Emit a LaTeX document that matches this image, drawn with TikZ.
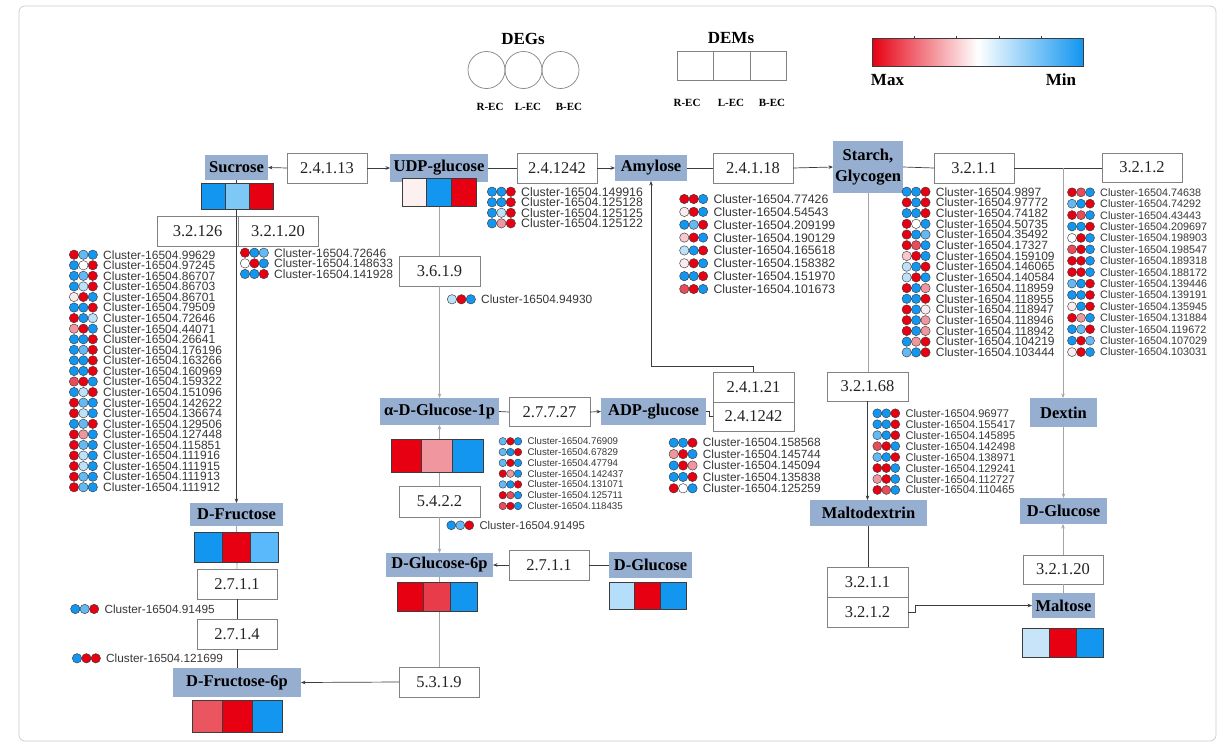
\documentclass[tikz,border=0pt]{standalone}
\usepackage{fontspec}
\setmainfont{Liberation Serif}
\newfontfamily\clfont{Liberation Sans}
\usetikzlibrary{arrows.meta}
\definecolor{hR}{RGB}{230,0,18}
\definecolor{hB}{RGB}{18,150,240}
\definecolor{hLB}{RGB}{100,185,245}
\definecolor{hPB}{RGB}{190,225,250}
\definecolor{hW}{RGB}{255,255,255}
\definecolor{hPW}{RGB}{250,236,238}
\definecolor{hPK}{RGB}{240,150,158}
\definecolor{hLP}{RGB}{248,200,205}
\definecolor{hMR}{RGB}{232,75,90}
\definecolor{hSB}{RGB}{125,200,245}
\definecolor{hUW}{RGB}{252,240,240}
\definecolor{hFB}{RGB}{90,185,250}
\definecolor{hGR}{RGB}{232,60,75}
\definecolor{hGB}{RGB}{180,222,250}
\definecolor{hFR}{RGB}{235,85,95}
\definecolor{hMB}{RGB}{200,228,248}
\definecolor{nodefill}{RGB}{150,174,208}
\definecolor{boxline}{RGB}{130,130,130}
\definecolor{linec}{RGB}{60,60,60}
\definecolor{lightline}{RGB}{165,165,165}
\definecolor{cltxt}{RGB}{55,55,55}
\definecolor{frame}{RGB}{205,205,205}
\newcount\clc
\newcommand\clist[6]{%
  \foreach \ca/\cb/\cc/\id [count=\i from 0] in {#6}{%
    \pgfmathsetmacro\yy{#2+\i*#3}%
    \global\advance\clc by 1
    \filldraw[fill=\ca, draw=linec, line width=0.45pt] ({#1-5.5-5*#5},\yy) circle[radius=#5pt];
    \filldraw[fill=\cb, draw=linec, line width=0.45pt] ({#1-5.5-3*#5},\yy) circle[radius=#5pt];
    \filldraw[fill=\cc, draw=linec, line width=0.45pt] ({#1-5.5-#5},\yy) circle[radius=#5pt];
    \node[cltext, font=\clfont\fontsize{#4}{#4}\selectfont] (cl\the\clc) at (#1,{\yy+0.36*#4}) {Cluster-16504.\id};
  }}
\newcommand\hmap[8]{%
  \node[hcell, fill=#6, minimum width=#4pt, minimum height=#5pt] (#1a) at (#2,#3) {};
  \node[hcell, fill=#7, minimum width=#4pt, minimum height=#5pt] (#1b) at (#1a.north east) {};
  \node[hcell, fill=#8, minimum width=#4pt, minimum height=#5pt] (#1c) at (#1b.north east) {};
}
\tikzset{
  met/.style={fill=nodefill, text=black, font=\bfseries\fontsize{16.5}{20.5}\selectfont, inner sep=0pt, outer sep=0pt, align=center},
  enz/.style={draw=boxline, fill=white, line width=0.7pt, text={rgb,255:red,35;green,35;blue,35}, font=\fontsize{16.5}{17}\selectfont, minimum width=80pt, minimum height=30pt, inner sep=0pt, outer sep=0pt},
  hcell/.style={draw=linec, line width=0.8pt, inner sep=0pt, outer sep=0pt, anchor=north west},
  cltext/.style={text=cltxt, inner sep=0pt, anchor=base west},
  ln/.style={draw=linec, line width=0.7pt},
  lln/.style={draw=lightline, line width=0.9pt},
  arr/.style={-{Stealth[length=4.5pt,width=3.6pt]}},
  lgd/.style={font=\bfseries\fontsize{11}{11}\selectfont, inner sep=0pt},
}
\begin{document}
\begin{tikzpicture}[x=1pt,y=-1pt]
\useasboundingbox (0,0) rectangle (1221,742);
\draw[frame, line width=0.8pt, rounded corners=6pt] (19,6) rectangle (1216,741);

% ---------- legend ----------
\node[font=\bfseries\fontsize{17}{17}\selectfont, inner sep=0pt] (degs) at (523,39) {DEGs};
\node[circle, draw=boxline, line width=0.7pt, minimum size=37pt, inner sep=0pt] (lc1) at (486.5,70) {};
\node[circle, draw=boxline, line width=0.7pt, minimum size=37pt, inner sep=0pt] (lc2) at (523.5,70) {};
\node[circle, draw=boxline, line width=0.7pt, minimum size=37pt, inner sep=0pt] (lc3) at (560.5,70) {};
\node[lgd] (lr1) at (490,107) {R-EC};
\node[lgd] (lr2) at (528,107) {L-EC};
\node[lgd] (lr3) at (569,107) {B-EC};
\node[font=\bfseries\fontsize{17}{17}\selectfont, inner sep=0pt] (dems) at (731,38) {DEMs};
\node[draw=boxline, line width=0.7pt, minimum width=36.5pt, minimum height=29pt, inner sep=0pt, outer sep=0pt, anchor=north west] (lm1) at (677,51) {};
\node[draw=boxline, line width=0.7pt, minimum width=36.5pt, minimum height=29pt, inner sep=0pt, outer sep=0pt, anchor=north west] (lm2) at (lm1.north east) {};
\node[draw=boxline, line width=0.7pt, minimum width=36.5pt, minimum height=29pt, inner sep=0pt, outer sep=0pt, anchor=north west] (lm3) at (lm2.north east) {};
\node[lgd] (lm4) at (687,103) {R-EC};
\node[lgd] (lm5) at (731,103) {L-EC};
\node[lgd] (lm6) at (772,103) {B-EC};
\shade[left color=hR, right color=hB, middle color=white] (872,38) rectangle (1083,66);
\draw[linec, line width=0.8pt] (872,38) rectangle (1083,66);
\foreach \t in {914,956,999,1041} \draw[linec, line width=0.6pt] (\t,36) -- (\t,38);
\node[font=\bfseries\fontsize{17}{17}\selectfont, inner sep=0pt] (max) at (887.5,80) {Max};
\node[font=\bfseries\fontsize{17}{17}\selectfont, inner sep=0pt] (min) at (1061,80) {Min};

% ---------- metabolites ----------
\node[met, minimum width=63pt, minimum height=25pt] (suc) at (236.5,167.5) {Sucrose};
\node[met, minimum width=98pt, minimum height=28pt] (udp) at (439,168) {UDP-glucose};
\node[met, minimum width=72pt, minimum height=26pt] (amy) at (651,168) {Amylose};
\node[met, minimum width=70pt, minimum height=52pt] (starch) at (868,167) {Starch,\\Glycogen};
\node[met, minimum width=119pt, minimum height=27pt] (agl) at (439.5,411.5) {α-D-Glucose-1p};
\node[met, minimum width=105pt, minimum height=27pt] (adp) at (653.5,411.5) {ADP-glucose};
\node[met, minimum width=93pt, minimum height=23pt] (dfru) at (236.5,514.5) {D-Fructose};
\node[met, minimum width=107pt, minimum height=24pt] (dg6p) at (439.5,565) {D-Glucose-6p};
\node[met, minimum width=83pt, minimum height=26pt] (dglc) at (650.5,565) {D-Glucose};
\node[met, minimum width=128pt, minimum height=29pt] (df6p) at (237,682.5) {D-Fructose-6p};
\node[met, minimum width=67pt, minimum height=29pt] (dex) at (1063.5,412.5) {Dextin};
\node[met, minimum width=117pt, minimum height=26pt] (mdx) at (868.5,513) {Maltodextrin};
\node[met, minimum width=87pt, minimum height=26pt] (dglc2) at (1063.5,511) {D-Glucose};
\node[met, minimum width=63pt, minimum height=25pt] (mal) at (1063.5,605.5) {Maltose};

% ---------- enzymes ----------
\node[enz] (e2) at (327,168) {2.4.1.13};
\node[enz] (e24t) at (557,168) {2.4.1242};
\node[enz] (e18) at (753,168) {2.4.1.18};
\node[enz] (e11t) at (974,168) {3.2.1.1};
\node[enz, minimum height=29pt] (e12t) at (1142,167.5) {3.2.1.2};
\node[enz, minimum width=81pt] (e126) at (197.5,231) {3.2.126};
\node[enz] (e120s) at (278,231) {3.2.1.20};
\node[enz, minimum width=81pt] (e3619) at (439.5,271) {3.6.1.9};
\node[enz, minimum width=81pt, minimum height=29pt] (e27727) at (549.5,412) {2.7.7.27};
\node[enz, minimum width=81pt] (e24121) at (753.5,387) {2.4.1.21};
\node[enz, minimum width=81pt, minimum height=29pt] (e24lo) at (753.5,416.5) {2.4.1242};
\node[enz, minimum width=81pt, minimum height=29pt] (e168) at (867.5,386.5) {3.2.1.68};
\node[enz, minimum width=81pt, minimum height=31pt] (e5422) at (439.5,501.5) {5.4.2.2};
\node[enz] (e2711m) at (549,565) {2.7.1.1};
\node[enz] (e2711l) at (237,584) {2.7.1.1};
\node[enz] (e2714) at (237,634) {2.7.1.4};
\node[enz] (e5319) at (439,682) {5.3.1.9};
\node[enz, minimum width=81pt] (e11l) at (867.5,582) {3.2.1.1};
\node[enz, minimum width=81pt] (e12l) at (867.5,612) {3.2.1.2};
\node[enz, minimum height=29pt] (e120r) at (1063,569.5) {3.2.1.20};

% ---------- connectors ----------
\draw[ln, arr] (e2.west) -- (suc.east);
\draw[ln, arr] (e2.east) -- (udp.west);
\draw[ln] (udp.east) -- (e24t.west);
\draw[ln, arr] (e24t.east) -- (amy.west);
\draw[ln] (amy.east) -- (e18.west);
\draw[ln, arr] (e18.east) -- (starch.west);
\draw[ln] (starch.east) -- (e11t.west);
\draw[ln] (e11t.east) -- (e11t.east -| e12t.west);
\coordinate (br) at (1063,168);
\draw[lln, arr] (br) -- (br |- dex.north);
\draw[lln, arr] (dex.south) -- (dglc2.north);
\draw[lln] (starch.south) -- (starch.south |- e168.north);
\draw[ln, arr] (e168.south) -- (e168.south |- mdx.north);
\draw[ln] (mdx.south) -- (mdx.south |- e11l.north);
\draw[ln, arr] (e12l.east) -- ++(7,0) |- (mal.west);
\draw[lln] (mal.north) -- (mal.north |- e120r.south);
\draw[lln, arr] (e120r.north) -- (e120r.north |- dglc2.south);
\draw[ln, arr] (suc.south) -- (dfru.north);
\draw[lln] (udp.south) -- (udp.south |- e3619.north);
\draw[lln, arr] (e3619.south) -- (e3619.south |- agl.north);
\draw[ln] (agl.east) -- (e27727.west);
\draw[ln, arr] (e27727.east) -- (adp.west);
\draw[ln] (adp.east) -- ++(3,0) |- (e24lo.west);
\draw[ln, arr] (e24121.north) -- ++(0,-6) -| (amy.south);
\draw[lln, arr] (e5422.north) -- (agl.south);
\draw[lln, arr] (e5422.south) -- (dg6p.north);
\draw[ln] (dglc.west) -- (e2711m.east);
\draw[ln, arr] (e2711m.west) -- (dg6p.east);
\draw[lln] (dg6p.south) -- (dg6p.south |- e5319.north);
\draw[ln, arr] (e5319.west) -- (df6p.east);
\draw[lln] (dfru.south) -- (e2711l.north);
\draw[ln] (e2711l.south) -- (e2714.north);
\draw[ln] (e2714.south) -- (e2714.south |- df6p.north);

% ---------- heat maps ----------
\hmap{hs}{201}{183}{24}{26}{hB}{hSB}{hR}
\hmap{hu}{402}{178}{24.67}{28}{hUW}{hB}{hR}
\hmap{ha}{391}{439}{30.7}{33}{hR}{hPK}{hB}
\hmap{hf}{194}{532}{28}{30}{hB}{hR}{hFB}
\hmap{hg}{397}{582}{26.7}{29}{hR}{hGR}{hB}
\hmap{hd}{609}{582}{25.7}{27}{hGB}{hR}{hB}
\hmap{hp}{192}{700}{30}{32}{hFR}{hR}{hB}
\hmap{hm}{1022}{628}{27}{29}{hMB}{hR}{hB}

% ---------- gene lists ----------
\clist{103}{254.7}{10.57}{12}{4.7}{hR/hLB/hB/99629, hB/hW/hR/97245, hB/hLB/hR/86707, hB/hPB/hR/86703, hPW/hR/hB/86701, hB/hB/hR/79509, hR/hB/hPB/72646, hPK/hR/hB/44071, hB/hB/hR/26641, hB/hLB/hR/176196, hB/hB/hR/163266, hB/hB/hR/160969, hMR/hR/hB/159322, hB/hPB/hR/151096, hR/hLB/hB/142622, hR/hPB/hB/136674, hB/hLB/hR/129506, hR/hPK/hB/127448, hR/hLB/hB/115851, hR/hPB/hB/111916, hR/hPB/hB/111915, hR/hLB/hB/111913, hR/hLB/hB/111912}
\clist{274}{252.7}{10.65}{12}{4.7}{hR/hB/hLB/72646, hW/hR/hB/148633, hB/hB/hR/141928}
\clist{521}{191.7}{10.55}{12.3}{4.7}{hB/hB/hR/149916, hB/hB/hR/125128, hB/hPB/hR/125125, hB/hPK/hR/125122}
\clist{713.3}{199}{12.86}{12.3}{4.7}{hR/hR/hB/77426, hPW/hR/hB/54543, hB/hLB/hR/209199, hLP/hR/hB/190129, hPB/hB/hR/165618, hPW/hR/hB/158382, hB/hB/hR/151970, hMR/hR/hB/101673}
\clist{481}{299.3}{0}{11.9}{4.7}{hPB/hR/hB/94930}
\clist{935.7}{191.7}{10.71}{12}{4.7}{hB/hB/hR/9897, hR/hB/hR/97772, hB/hB/hR/74182, hR/hW/hB/50735, hR/hB/hLB/35492, hR/hMR/hB/17327, hLP/hR/hB/159109, hPB/hB/hR/146065, hPB/hR/hB/140584, hR/hB/hPK/118959, hB/hB/hR/118955, hR/hB/hPW/118947, hR/hB/hPK/118946, hR/hB/hPK/118942, hB/hPK/hR/104219, hLB/hB/hR/103444}
\clist{1100}{192.3}{11.41}{10.8}{4.5}{hR/hMR/hB/74638, hLB/hB/hR/74292, hR/hMR/hB/43443, hB/hB/hR/209697, hW/hR/hB/198903, hMR/hR/hB/198547, hR/hR/hB/189318, hR/hR/hB/188172, hLB/hB/hR/139446, hB/hB/hR/139191, hPW/hB/hR/135945, hR/hPK/hB/131884, hB/hLB/hR/119672, hB/hR/hLB/107029, hPW/hR/hB/103031}
\clist{527.3}{441.3}{10.78}{9.7}{3.8}{hLB/hR/hB/76909, hLB/hB/hR/67829, hLB/hR/hB/47794, hR/hPK/hB/142437, hLB/hB/hR/131071, hR/hMR/hB/125711, hMR/hR/hB/118435}
\clist{479.3}{525.3}{0}{11.3}{4.5}{hB/hLB/hR/91495}
\clist{702.7}{442.7}{11.4}{11.9}{4.7}{hB/hB/hR/158568, hPK/hR/hB/145744, hB/hR/hPK/145094, hB/hB/hR/135838, hR/hW/hB/125259}
\clist{905.3}{413.3}{10.95}{11.1}{4.5}{hB/hB/hR/96977, hB/hB/hR/155417, hLB/hB/hR/145895, hMR/hR/hB/142498, hLB/hB/hR/138971, hR/hR/hB/129241, hPK/hR/hB/112727, hR/hMR/hB/110465}
\clist{104.3}{609}{0}{11.8}{4.7}{hB/hLB/hR/91495}
\clist{106}{658.3}{0}{11.8}{4.7}{hB/hR/hR/121699}
\end{tikzpicture}
\end{document}
